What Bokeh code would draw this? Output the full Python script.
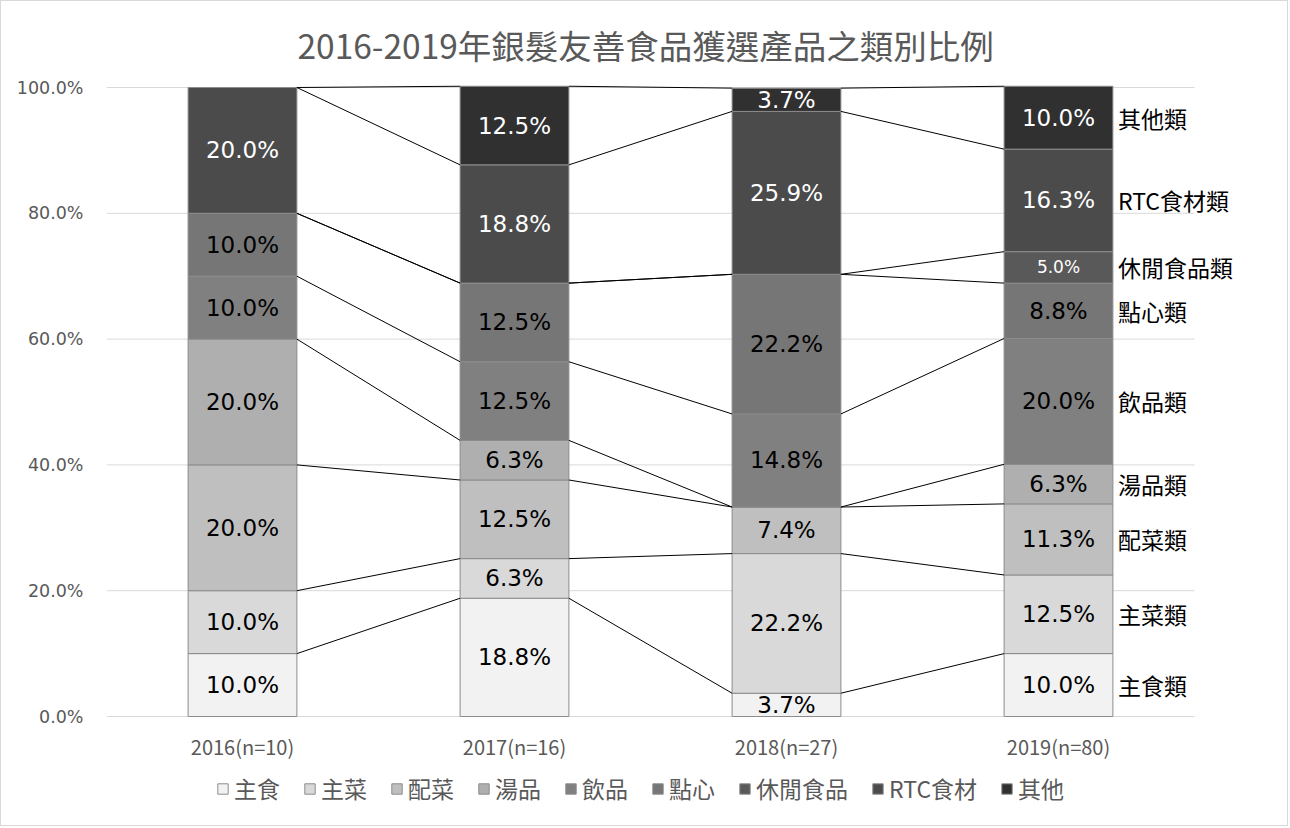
from bokeh.plotting import figure
from bokeh.models import (ColumnDataSource, Range1d, FixedTicker, PrintfTickFormatter,
                          Legend, LegendItem, LabelSet)
from bokeh.core.properties import value
from bokeh.embed import file_html
from bokeh.resources import INLINE

# ---------------- data ----------------
years = ["2016(n=10)", "2017(n=16)", "2018(n=27)", "2019(n=80)"]
series_names = ["主食", "主菜", "配菜", "湯品", "飲品", "點心", "休閒食品", "RTC食材", "其他"]
staple = [10.0, 18.8, 3.7, 10.0]        # 主食
main_dish = [10.0, 6.3, 22.2, 12.5]     # 主菜
side_dish = [20.0, 12.5, 7.4, 11.3]     # 配菜
soup = [20.0, 6.3, 0.0, 6.3]            # 湯品
drinks = [10.0, 12.5, 14.8, 20.0]       # 飲品
snacks = [10.0, 12.5, 22.2, 8.8]        # 點心
leisure = [0.0, 0.0, 0.0, 5.0]          # 休閒食品
rtc = [20.0, 18.8, 25.9, 16.3]          # RTC食材
other = [0.0, 12.5, 3.7, 10.0]          # 其他
y_ticks = [0, 20, 40, 60, 80, 100]

values = [staple, main_dish, side_dish, soup, drinks, snacks, leisure, rtc, other]

# ---------------- styles / geometry ----------------
colors = ["#f2f2f2", "#d9d9d9", "#bfbfbf", "#afafaf", "#808080",
          "#767676", "#595959", "#4b4b4b", "#303030"]
label_colors = ["#000000"] * 6 + ["#ffffff"] * 3
label_sizes = ["23px"] * 6 + ["17px", "23px", "23px"]
NUM_FONT = "DejaVu Sans"
CJK_FONT = "Noto Sans CJK TC"
HALF_W = 0.2

W, H = 1288, 826
LEFT, TOP = 105, 78          # canvas px of frame left / top
PX_X = 272.0                 # px per category
PX_Y = 6.29                  # px per percent
Y0_PX = 715                  # canvas px of the 0% line
HEAD_PX = 8
y_lo = -(H - Y0_PX) / PX_Y
y_hi = 100 + HEAD_PX / PX_Y
x_lo = -0.5
x_hi = x_lo + (W - LEFT) / PX_X

p = figure(width=W, height=H, output_backend="svg", toolbar_location=None,
           x_range=Range1d(x_lo, x_hi), y_range=Range1d(y_lo, y_hi),
           min_border_left=LEFT, min_border_right=0, min_border_top=TOP,
           min_border_bottom=0)
p.styles = {"border": "1px solid #d9d9d9"}
p.outline_line_color = None
p.background_fill_color = "#ffffff"
p.border_fill_color = "#ffffff"

p.title.text = "2016-2019年銀髮友善食品獲選產品之類別比例"
p.title.align = "left"
p.title.offset = 191
p.title.text_font = CJK_FONT
p.title.text_font_size = "33.5px"
p.title.text_font_style = "normal"
p.title.text_color = "#595959"
p.title.standoff = 21

# axes
p.xaxis.visible = False
p.yaxis.ticker = FixedTicker(ticks=y_ticks)
p.yaxis.formatter = PrintfTickFormatter(format="%.1f%%")
p.yaxis.major_label_text_font = NUM_FONT
p.yaxis.major_label_text_font_size = "17.5px"
p.yaxis.major_label_text_color = "#595959"
p.yaxis.major_tick_line_color = None
p.yaxis.minor_tick_line_color = None
p.yaxis.axis_line_color = None
p.yaxis.major_label_standoff = 17
p.xgrid.grid_line_color = None
p.ygrid.grid_line_color = None

# gridlines spanning the category area only
p.segment(x0=[x_lo] * len(y_ticks), x1=[len(years) - 0.5] * len(y_ticks),
          y0=y_ticks, y1=y_ticks, line_color="#d9d9d9", line_width=1)

# category labels under the bars
xs = list(range(len(years)))
p.text(x=xs, y=[-30 / PX_Y] * len(xs), text=years, text_align="center",
       text_baseline="middle", text_font=value(CJK_FONT),
       text_font_size=value("20px"), text_color="#595959")

# stacked bars
bottom = [0.0] * len(years)
tops_all = []
legend_items = []
for k, (name, vals) in enumerate(zip(series_names, values)):
    top = [b + v for b, v in zip(bottom, vals)]
    src = ColumnDataSource(dict(x=xs, bottom=bottom, top=top))
    r = p.vbar(x="x", bottom="bottom", top="top", width=2 * HALF_W, source=src,
               fill_color=colors[k], line_color="#8c8c8c", line_width=1)
    legend_items.append(LegendItem(label=name, renderers=[r]))
    lx, ly, lt = [], [], []
    for i, v in enumerate(vals):
        if v > 0:
            lx.append(xs[i])
            ly.append((bottom[i] + top[i]) / 2)
            lt.append(f"{v:.1f}%")
    lsrc = ColumnDataSource(dict(x=lx, y=ly, t=lt))
    p.add_layout(LabelSet(x="x", y="y", text="t", source=lsrc,
                          text_align="center", text_baseline="middle",
                          text_font=value(NUM_FONT), text_font_size=value(label_sizes[k]),
                          text_color=value(label_colors[k])))
    tops_all.append(top)
    bottom = top

# series lines
lxs, lys = [], []
for top in tops_all:
    for i in range(len(years) - 1):
        lxs.append([xs[i] + HALF_W, xs[i + 1] - HALF_W])
        lys.append([top[i], top[i + 1]])
p.multi_line(xs=lxs, ys=lys, line_color="#000000", line_width=1)

# right-side category labels at 2019 segments
last = len(years) - 1
rb = 0.0
rx, ry, rt = [], [], []
for name, vals in zip(series_names, values):
    v = vals[last]
    rx.append(xs[last] + HALF_W)
    ry.append(rb + v / 2)
    rt.append(name + "類")
    rb += v
p.add_layout(LabelSet(x="x", y="y", text="t",
                      source=ColumnDataSource(dict(x=rx, y=ry, t=rt)),
                      x_offset=5, text_align="left", text_baseline="middle",
                      text_font=value(CJK_FONT), text_font_size=value("23px"),
                      text_color=value("#000000")))

legend = Legend(items=legend_items, orientation="horizontal", location=(110, 22),
                label_text_font=CJK_FONT, label_text_font_size="23px",
                label_text_color="#595959", glyph_width=13, glyph_height=13,
                label_standoff=5, spacing=23, label_height=26,
                border_line_color=None, background_fill_alpha=0,
                padding=0, margin=0)
p.add_layout(legend, "center")

open("out.html", "w").write(file_html(p, INLINE))
